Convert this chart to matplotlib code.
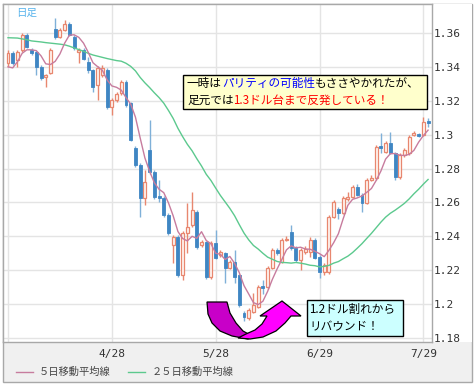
import matplotlib
matplotlib.use("Agg")
import matplotlib.pyplot as plt
from matplotlib.patches import Rectangle, Polygon
import numpy as np
import pandas as pd

# ---------------- data (EUR/USD daily) ----------------
opens = [1.3423, 1.3482, 1.3441, 1.3500, 1.3588, 1.3500, 1.3488, 1.3400, 1.3340, 1.3364,
         1.3624, 1.3576, 1.3618, 1.3653, 1.3576, 1.3488, 1.3500, 1.3429, 1.3382, 1.3293,
         1.3352, 1.3382, 1.3163, 1.3205, 1.3246, 1.3311, 1.3187, 1.2922, 1.2821, 1.2627,
         1.2910, 1.2780, 1.2640, 1.2627, 1.2526, 1.2349, 1.2396, 1.2172, 1.2420, 1.2467,
         1.2544, 1.2349, 1.2367, 1.2160, 1.2361, 1.2290, 1.2302, 1.2214, 1.2249, 1.2172,
         1.1948, 1.1919, 1.1954, 1.1984, 1.2107, 1.2101, 1.2214, 1.2320, 1.2249, 1.2379,
         1.2426, 1.2332, 1.2261, 1.2308, 1.2308, 1.2379, 1.2279, 1.2190, 1.2190, 1.2514,
         1.2562, 1.2538, 1.2620, 1.2632, 1.2691, 1.2644, 1.2597, 1.2733, 1.2745, 1.2933,
         1.2898, 1.2951, 1.2892, 1.2750, 1.2880, 1.2892, 1.2998, 1.3004, 1.2998, 1.3081]
closes = [1.3482, 1.3425, 1.3488, 1.3588, 1.3520, 1.3482, 1.3400, 1.3335, 1.3352, 1.3500,
          1.3576, 1.3618, 1.3653, 1.3588, 1.3512, 1.3500, 1.3447, 1.3382, 1.3281, 1.3394,
          1.3394, 1.3163, 1.3205, 1.3240, 1.3311, 1.3175, 1.2969, 1.2821, 1.2627, 1.2722,
          1.2780, 1.2632, 1.2627, 1.2526, 1.2420, 1.2396, 1.2172, 1.2420, 1.2455, 1.2556,
          1.2337, 1.2367, 1.2160, 1.2361, 1.2273, 1.2308, 1.2214, 1.2249, 1.2160, 1.1996,
          1.1925, 1.1966, 1.1996, 1.2101, 1.2095, 1.2214, 1.2320, 1.2302, 1.2379, 1.2385,
          1.2332, 1.2261, 1.2320, 1.2326, 1.2379, 1.2273, 1.2190, 1.2231, 1.2514, 1.2603,
          1.2538, 1.2627, 1.2632, 1.2691, 1.2644, 1.2597, 1.2733, 1.2745, 1.2927, 1.2922,
          1.2951, 1.2892, 1.2750, 1.2880, 1.2910, 1.2986, 1.3010, 1.2992, 1.3075, 1.3070]
highs = [1.3500, 1.3495, 1.3500, 1.3600, 1.3600, 1.3510, 1.3495, 1.3410, 1.3360, 1.3510,
         1.3689, 1.3630, 1.3677, 1.3665, 1.3590, 1.3510, 1.3510, 1.3458, 1.3390, 1.3405,
         1.3410, 1.3395, 1.3215, 1.3250, 1.3325, 1.3320, 1.3195, 1.2935, 1.2830, 1.2792,
         1.3087, 1.2790, 1.2733, 1.2635, 1.2535, 1.2410, 1.2405, 1.2430, 1.2597, 1.2662,
         1.2556, 1.2380, 1.2375, 1.2370, 1.2438, 1.2320, 1.2310, 1.2260, 1.2320, 1.2180,
         1.1960, 1.1975, 1.2066, 1.2110, 1.2143, 1.2225, 1.2330, 1.2330, 1.2390, 1.2400,
         1.2467, 1.2340, 1.2330, 1.2340, 1.2396, 1.2390, 1.2290, 1.2240, 1.2525, 1.2615,
         1.2570, 1.2640, 1.2660, 1.2700, 1.2710, 1.2655, 1.2745, 1.2760, 1.2940, 1.3010,
         1.2960, 1.3016, 1.2900, 1.2890, 1.2920, 1.2995, 1.3020, 1.3010, 1.3105, 1.3100]
lows = [1.3400, 1.3410, 1.3400, 1.3490, 1.3510, 1.3470, 1.3352, 1.3320, 1.3281, 1.3355,
        1.3565, 1.3570, 1.3610, 1.3580, 1.3500, 1.3423, 1.3440, 1.3364, 1.3252, 1.3205,
        1.3340, 1.3150, 1.3116, 1.3195, 1.3235, 1.3165, 1.2960, 1.2810, 1.2514, 1.2585,
        1.2770, 1.2620, 1.2603, 1.2515, 1.2410, 1.2243, 1.2160, 1.2143, 1.2302, 1.2455,
        1.2325, 1.2335, 1.2150, 1.2150, 1.2265, 1.2280, 1.2125, 1.2205, 1.2125, 1.1984,
        1.1901, 1.1907, 1.1945, 1.1975, 1.2060, 1.2090, 1.2205, 1.2290, 1.2240, 1.2370,
        1.2320, 1.2250, 1.2202, 1.2295, 1.2279, 1.2265, 1.2155, 1.2170, 1.2180, 1.2505,
        1.2500, 1.2530, 1.2610, 1.2625, 1.2635, 1.2544, 1.2590, 1.2725, 1.2735, 1.2892,
        1.2890, 1.2885, 1.2733, 1.2740, 1.2870, 1.2880, 1.2990, 1.2985, 1.2990, 1.3045]

# moving-average values before enough history exists
ma5_early = [1.3400, 1.3394, 1.3430, 1.3480]
ma25_early = [1.3572, 1.3571, 1.3570, 1.3565, 1.3560, 1.3553, 1.3550, 1.3547, 1.3543, 1.3540,
              1.3537, 1.3534, 1.3530, 1.3522, 1.3512, 1.3502, 1.3492, 1.3480, 1.3470, 1.3463,
              1.3456, 1.3449, 1.3443, 1.3437]

tick_idx = [0, 22, 44, 66, 88]
tick_labels = ["", "4/28", "5/28", "6/29", "7/29"]
y_ticks = [1.18, 1.20, 1.22, 1.24, 1.26, 1.28, 1.30, 1.32, 1.34, 1.36]
y_tick_labels = ["1.18", "1.2", "1.22", "1.24", "1.26", "1.28", "1.3", "1.32", "1.34", "1.36"]

legend_labels = ["５日移動平均線", "２５日移動平均線"]
note1_parts = [[("一時は", "black"), ("パリティの可能性", "#0000ff"), ("もささやかれたが、", "black")],
               [("足元では", "black"), ("1.3ドル台まで反発している！", "#ff0000")]]
note2_lines = ["1.2ドル割れから", "リバウンド！"]
chart_label = "日足"

# ---------------- figure ----------------
W, H = 477, 386
plt.rcParams['font.family'] = ['Noto Sans CJK JP', 'DejaVu Sans']
fig = plt.figure(figsize=(W / 100, H / 100), dpi=100, facecolor="white")

def fx(x):
    return x / W

def fy(y):
    return 1 - y / H

# outer frame with grey bottom band
fig.add_artist(Rectangle((fx(3), fy(382)), fx(472) - fx(3), fy(4) - fy(382),
                         transform=fig.transFigure, facecolor="#f0f0f0",
                         edgecolor="#a8a8a8", linewidth=1.0, zorder=-5))
fig.add_artist(Rectangle((fx(432), fy(342)), fx(472) - fx(432), fy(4) - fy(342),
                         transform=fig.transFigure, facecolor="white",
                         edgecolor="none", zorder=-4))

ax = fig.add_axes([fx(3), fy(342), fx(432) - fx(3), fy(4) - fy(342)])
ax.set_facecolor("white")

n = len(closes)
idx = np.arange(n)
o = np.array(opens); c = np.array(closes); h = np.array(highs); l = np.array(lows)
up = c >= o

up_edge = "#e8876f"
up_fill = "#fff6f2"
dn_col = "#3f86c3"
dn_wick = "#7fb0d8"

ax.vlines(idx[up], l[up], h[up], color=up_edge, linewidth=1.0, zorder=2)
ax.vlines(idx[~up], l[~up], h[~up], color=dn_wick, linewidth=1.0, zorder=2)
bw = 0.62
body_lo = np.minimum(o, c)
body_h = np.maximum(np.abs(c - o), 0.0004)
ax.bar(idx[up], body_h[up], bottom=body_lo[up], width=bw, facecolor=up_fill,
       edgecolor=up_edge, linewidth=0.9, zorder=3)
ax.bar(idx[~up], body_h[~up], bottom=body_lo[~up], width=bw, facecolor=dn_col,
       edgecolor=dn_col, linewidth=0.6, zorder=3)

s = pd.Series(closes)
ma5 = s.rolling(5).mean().to_numpy()
ma5[:len(ma5_early)] = ma5_early
ma25 = s.rolling(25).mean().to_numpy()
ma25[:len(ma25_early)] = ma25_early

ma5_col = "#c77c9e"
ma25_col = "#5cc98e"
ax.plot(idx, ma25, color=ma25_col, linewidth=1.0, zorder=4)
ax.plot(idx, ma5, color=ma5_col, linewidth=1.0, zorder=4)

ax.set_xlim(-1.06, 89.83)
ax.set_ylim(1.1776, 1.3771)

ax.set_yticks(y_ticks)
ax.set_yticklabels(y_tick_labels, family="DejaVu Sans Mono", fontsize=8, color="#333333")
ax.yaxis.tick_right()
ax.tick_params(axis="y", length=0, pad=1.5)
ax.set_xticks(tick_idx)
ax.set_xticklabels(tick_labels, family="DejaVu Sans Mono", fontsize=8, color="#333333")
ax.tick_params(axis="x", length=0, pad=5)
ax.grid(True, color="#e4e4e4", linewidth=1.0, zorder=0)
ax.set_axisbelow(True)
for sp in ax.spines.values():
    sp.set_color("#a8a8a8")
    sp.set_linewidth(1.0)

# chart label
fig.text(fx(16), fy(13), chart_label, color="#5ab4ec", fontsize=7.6, va="center", ha="left")

# legend
fig.add_artist(plt.Line2D([fx(16), fx(33)], [fy(372), fy(372)], transform=fig.transFigure,
                          color=ma5_col, linewidth=1.0))
fig.text(fx(39), fy(372), legend_labels[0], fontsize=7.4, color="#444444", va="center", ha="left")
fig.add_artist(plt.Line2D([fx(128), fx(145)], [fy(372), fy(372)], transform=fig.transFigure,
                          color=ma25_col, linewidth=1.0))
fig.text(fx(152), fy(372), legend_labels[1], fontsize=7.4, color="#444444", va="center", ha="left")

# U-turn arrow
left_piece = [(207, 302), (208, 314), (212, 323), (220, 331), (232, 336), (248, 339),
              (252, 336), (243, 331), (236, 323), (230, 313), (227, 302)]
right_piece = [(238, 338), (250, 339), (263, 337), (276, 331), (285, 323), (291, 316),
               (301, 316), (282, 301), (260, 316), (267, 316), (262, 324), (255, 330), (246, 334)]
fig.add_artist(Polygon([(fx(x), fy(y)) for x, y in left_piece], closed=True,
                       transform=fig.transFigure, facecolor="#c800c8", edgecolor="black",
                       linewidth=0.9, zorder=5))
fig.add_artist(Polygon([(fx(x), fy(y)) for x, y in right_piece], closed=True,
                       transform=fig.transFigure, facecolor="#ff00ff", edgecolor="black",
                       linewidth=0.9, zorder=6))

# note boxes
fig.add_artist(Rectangle((fx(183), fy(109)), fx(427) - fx(183), fy(75) - fy(109),
                         transform=fig.transFigure, facecolor="#ffffcc", edgecolor="black",
                         linewidth=1.0, zorder=7))
fig.add_artist(Rectangle((fx(307), fy(336)), fx(403) - fx(307), fy(300) - fy(336),
                         transform=fig.transFigure, facecolor="#ccffff", edgecolor="black",
                         linewidth=1.0, zorder=7))

fig.canvas.draw()
renderer = fig.canvas.get_renderer()

def draw_parts(parts, x0, ycen, size):
    x = x0
    for txt, col in parts:
        t = fig.text(fx(x), fy(ycen), txt, color=col, fontsize=size, va="center",
                     ha="left", zorder=8)
        bb = t.get_window_extent(renderer)
        x += bb.width

draw_parts(note1_parts[0], 187, 84, 8.4)
draw_parts(note1_parts[1], 187, 100, 8.4)
for i, line in enumerate(note2_lines):
    fig.text(fx(309), fy(310 + i * 17), line, color="black", fontsize=8.4, va="center",
             ha="left", zorder=8)

fig.savefig("out.png", dpi=100, facecolor="white")
